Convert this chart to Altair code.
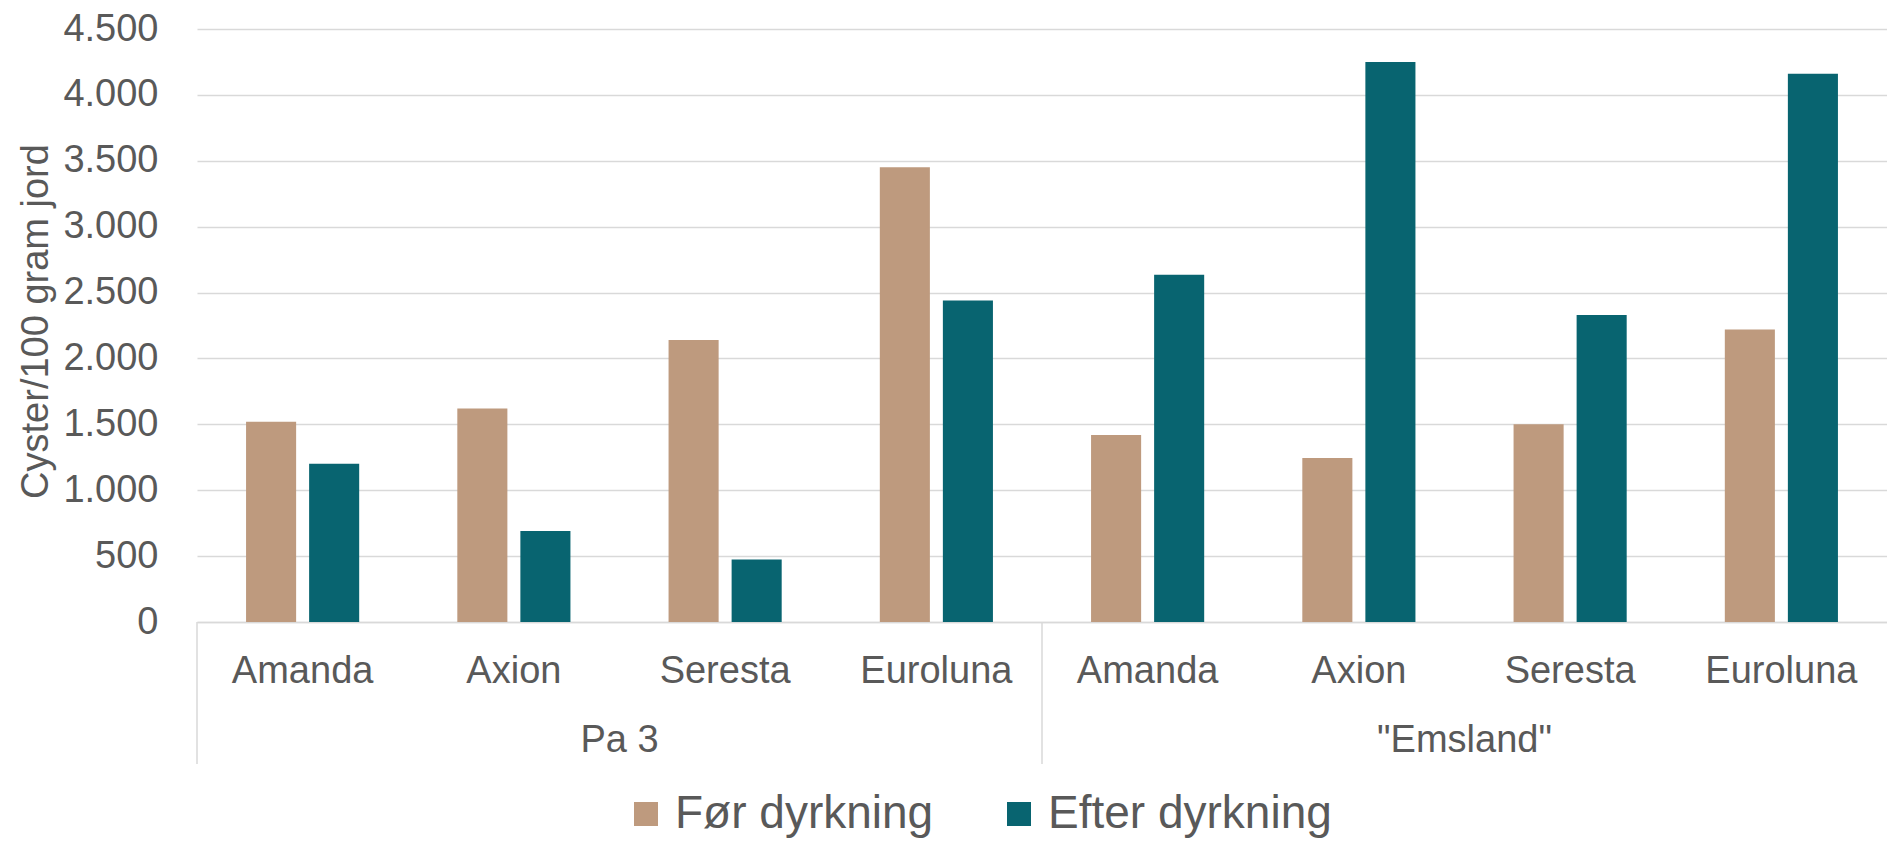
import altair as alt
import pandas as pd

groups = ["Pa 3", '"Emsland"']
varieties = ["Amanda", "Axion", "Seresta", "Euroluna"]
series = ["Før dyrkning", "Efter dyrkning"]
for_vals = [1520, 1620, 2140, 3450, 1420, 1245, 1500, 2220]
efter_vals = [1200, 690, 475, 2440, 2635, 4250, 2330, 4160]
colors = ["#BE9A7E", "#086470"]
y_ticks = [0, 500, 1000, 1500, 2000, 2500, 3000, 3500, 4000, 4500]

rows = []
keys = []
i = 0
for g in groups:
    for v in varieties:
        k = g + "|" + v
        keys.append(k)
        rows.append({"key": k, "group": g, "variety": v, "serie": series[0], "value": for_vals[i]})
        rows.append({"key": k, "group": g, "variety": v, "serie": series[1], "value": efter_vals[i]})
        i += 1
df = pd.DataFrame(rows)

W, H = 1690, 593
GREY = "#595959"

xscale = alt.Scale(domain=keys, paddingInner=0, paddingOuter=0)

xenc = alt.X("key:N", title=None, scale=xscale,
             axis=alt.Axis(labelExpr="split(datum.label, '|')[1]", labelFontSize=38,
                           labelColor=GREY, labelPadding=30, labelAngle=0, ticks=False,
                           domainColor="#D9D9D9", domainWidth=1.5, grid=False, labelLimit=400))

bars = alt.Chart(df).mark_bar().encode(
    x=xenc,
    xOffset=alt.XOffset("serie:N",
                        scale=alt.Scale(domain=series, paddingInner=0.206, paddingOuter=0.778)),
    y=alt.Y("value:Q", title="Cyster/100 gram jord",
            scale=alt.Scale(domain=[0, 4500], nice=False),
            axis=alt.Axis(values=y_ticks, labelExpr="replace(format(datum.value, ','), ',', '.')",
                          labelFontSize=38, labelColor=GREY, labelPadding=39, ticks=False,
                          domain=False, gridColor="#D9D9D9", gridWidth=1.5,
                          titleFontSize=38, titleFontWeight="normal", titleColor=GREY,
                          titleX=-161, titleY=292, titleBaseline="middle")),
    color=alt.Color("serie:N",
                    scale=alt.Scale(domain=series, range=colors),
                    legend=alt.Legend(title=None, orient="none", legendX=426, legendY=762,
                                      direction="horizontal", labelFontSize=46, labelColor=GREY,
                                      symbolType="square", symbolSize=576, symbolStrokeWidth=0,
                                      columnPadding=62, labelOffset=6, labelLimit=500)),
)

gdf = pd.DataFrame({"group": groups,
                    "mid": [groups[0] + "|" + varieties[1], groups[1] + "|" + varieties[1]],
                    "first": [groups[0] + "|" + varieties[0], groups[1] + "|" + varieties[0]]})

glabels = alt.Chart(gdf).mark_text(fontSize=38, color=GREY, baseline="middle", align="center").encode(
    x=alt.X("mid:N", scale=xscale, bandPosition=1),
    y=alt.value(712),
    text="group:N",
)

seps = alt.Chart(gdf).mark_rule(color="#D9D9D9", strokeWidth=1.5).encode(
    x=alt.X("first:N", scale=xscale, bandPosition=0),
    y=alt.value(H),
    y2=alt.value(735),
)

chart = alt.layer(bars, seps, glabels).properties(
    width=W, height=H,
    autosize=alt.AutoSizeParams(type="none"),
    padding={"left": 189, "top": 21, "right": 0, "bottom": 216},
).configure(font="Liberation Sans").configure_view(stroke=None)

chart.save("out.html", embed_options={"renderer": "svg", "actions": False})
